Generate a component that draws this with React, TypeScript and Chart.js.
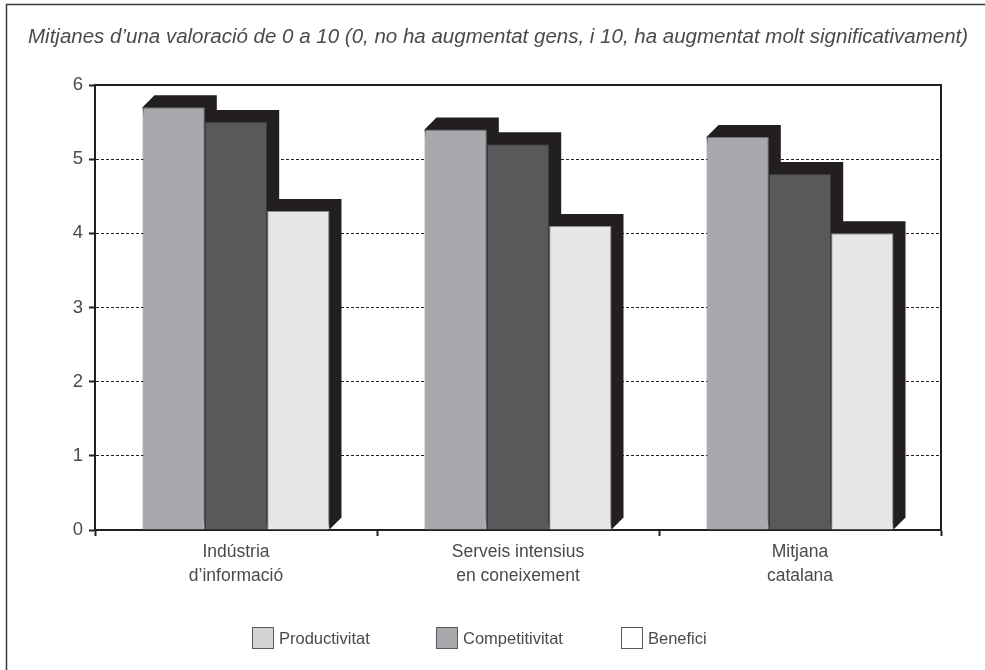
import { useEffect, useRef } from "react";
import { Chart, registerables } from "chart.js";

Chart.register(...registerables);

// Data
const categories: string[][] = [
  ["Indústria", "d’informació"],
  ["Serveis intensius", "en coneixement"],
  ["Mitjana", "catalana"],
];
const seriesNames = ["Productivitat", "Competitivitat", "Benefici"];
const productivitat = [5.7, 5.4, 5.3];
const competitivitat = [5.5, 5.2, 4.8];
const benefici = [4.3, 4.1, 4.0];
const yMin = 0;
const yMax = 6;
const yStep = 1;
const titleText =
  "Mitjanes d’una valoració de 0 a 10 (0, no ha augmentat gens, i 10, ha augmentat molt significativament)";

// Styles
const barColors = ["#a7a9ac", "#58595b", "#e6e7e8"];
const barEdgeColors = ["#6d6e71", "#3c3c3e", "#8a8b8e"];
const legendColors = ["#d1d3d4", "#a7a9ac", "#ffffff"];
const depthColor = "#231f20";
const axisColor = "#231f20";
const textColor = "#4a4a4c";
const FONT = "'Liberation Sans', Arial, sans-serif";
const DEPTH = 12;

// Extruded side and top faces behind each bar
const depthPlugin = {
  id: "barDepth",
  beforeDatasetsDraw(chart: any) {
    const ctx = chart.ctx;
    ctx.save();
    ctx.fillStyle = depthColor;
    chart.data.datasets.forEach((_ds: any, i: number) => {
      const meta = chart.getDatasetMeta(i);
      meta.data.forEach((bar: any) => {
        const { x, y, base, width } = bar.getProps(["x", "y", "base", "width"], true);
        const l = x - width / 2;
        const r = x + width / 2;
        ctx.beginPath();
        ctx.moveTo(l, y);
        ctx.lineTo(l + DEPTH, y - DEPTH);
        ctx.lineTo(r + DEPTH, y - DEPTH);
        ctx.lineTo(r + DEPTH, base - DEPTH);
        ctx.lineTo(r, base);
        ctx.closePath();
        ctx.fill();
      });
    });
    ctx.restore();
  },
};

// Title, plot frame, legend and outer border
const decorPlugin = {
  id: "decor",
  afterDraw(chart: any) {
    const ctx = chart.ctx;
    const { left, right, top, bottom } = chart.chartArea;
    ctx.save();

    // outer border (left and top edges)
    ctx.strokeStyle = "#3a3a3c";
    ctx.lineWidth = 1.5;
    ctx.beginPath();
    ctx.moveTo(6.5, chart.height);
    ctx.lineTo(6.5, 4.5);
    ctx.lineTo(chart.width, 4.5);
    ctx.stroke();

    // title
    ctx.fillStyle = textColor;
    ctx.font = `italic 20.5px ${FONT}`;
    ctx.textBaseline = "middle";
    ctx.textAlign = "left";
    ctx.fillText(titleText, 28, 37);

    // top and right frame of the plot
    ctx.strokeStyle = axisColor;
    ctx.lineWidth = 2;
    ctx.beginPath();
    ctx.moveTo(left - 1, top);
    ctx.lineTo(right, top);
    ctx.lineTo(right, bottom + 1);
    ctx.stroke();

    // legend
    const legendX = [252, 436, 621];
    const boxTop = 627;
    const box = 22;
    ctx.font = `16.5px ${FONT}`;
    seriesNames.forEach((name, i) => {
      const x = legendX[i];
      ctx.fillStyle = legendColors[i];
      ctx.fillRect(x, boxTop, box, box);
      ctx.strokeStyle = "#58595b";
      ctx.lineWidth = 1;
      ctx.strokeRect(x + 0.5, boxTop + 0.5, box - 1, box - 1);
      ctx.fillStyle = textColor;
      ctx.fillText(name, x + box + 5, boxTop + box / 2 + 1);
    });

    ctx.restore();
  },
};

export default function App() {
  const canvasRef = useRef<HTMLCanvasElement | null>(null);

  useEffect(() => {
    if (!canvasRef.current) return;
    const seriesValues = [productivitat, competitivitat, benefici];
    const chart = new Chart(canvasRef.current, {
      type: "bar",
      data: {
        labels: categories,
        datasets: seriesValues.map((values, i) => ({
          label: seriesNames[i],
          data: values,
          backgroundColor: barColors[i],
          borderColor: barEdgeColors[i],
          borderWidth: 1,
          categoryPercentage: 0.663,
          barPercentage: 1,
        })),
      },
      options: {
        responsive: false,
        animation: false,
        devicePixelRatio: 1,
        layout: { padding: { top: 85, right: 44, bottom: 80, left: 0 } },
        plugins: {
          legend: { display: false },
          title: { display: false },
          tooltip: { enabled: false },
        },
        scales: {
          x: {
            grid: {
              drawOnChartArea: false,
              drawTicks: true,
              tickLength: 6,
              tickWidth: 2,
              tickColor: axisColor,
              offset: true,
            },
            border: { color: axisColor, width: 2 },
            ticks: {
              color: textColor,
              font: { family: FONT, size: 17.5, lineHeight: 1.37 },
              padding: 4,
              maxRotation: 0,
            },
            afterFit(scale: any) {
              scale.height = 60;
            },
          },
          y: {
            min: yMin,
            max: yMax,
            ticks: {
              stepSize: yStep,
              color: textColor,
              font: { family: FONT, size: 18.5 },
              padding: 6,
            },
            grid: {
              color: axisColor,
              lineWidth: 1,
              tickLength: 6,
              tickWidth: 2,
              tickColor: axisColor,
              tickBorderDash: [],
            },
            border: { color: axisColor, width: 2, dash: [3, 2] },
            afterFit(scale: any) {
              scale.width = 95;
            },
          },
        },
      },
      plugins: [depthPlugin, decorPlugin],
    });
    return () => chart.destroy();
  }, []);

  return (
    <div style={{ position: "absolute", left: 0, top: 0, width: 985, height: 670, background: "#fff" }}>
      <canvas ref={canvasRef} width={985} height={670} style={{ display: "block" }} />
    </div>
  );
}
